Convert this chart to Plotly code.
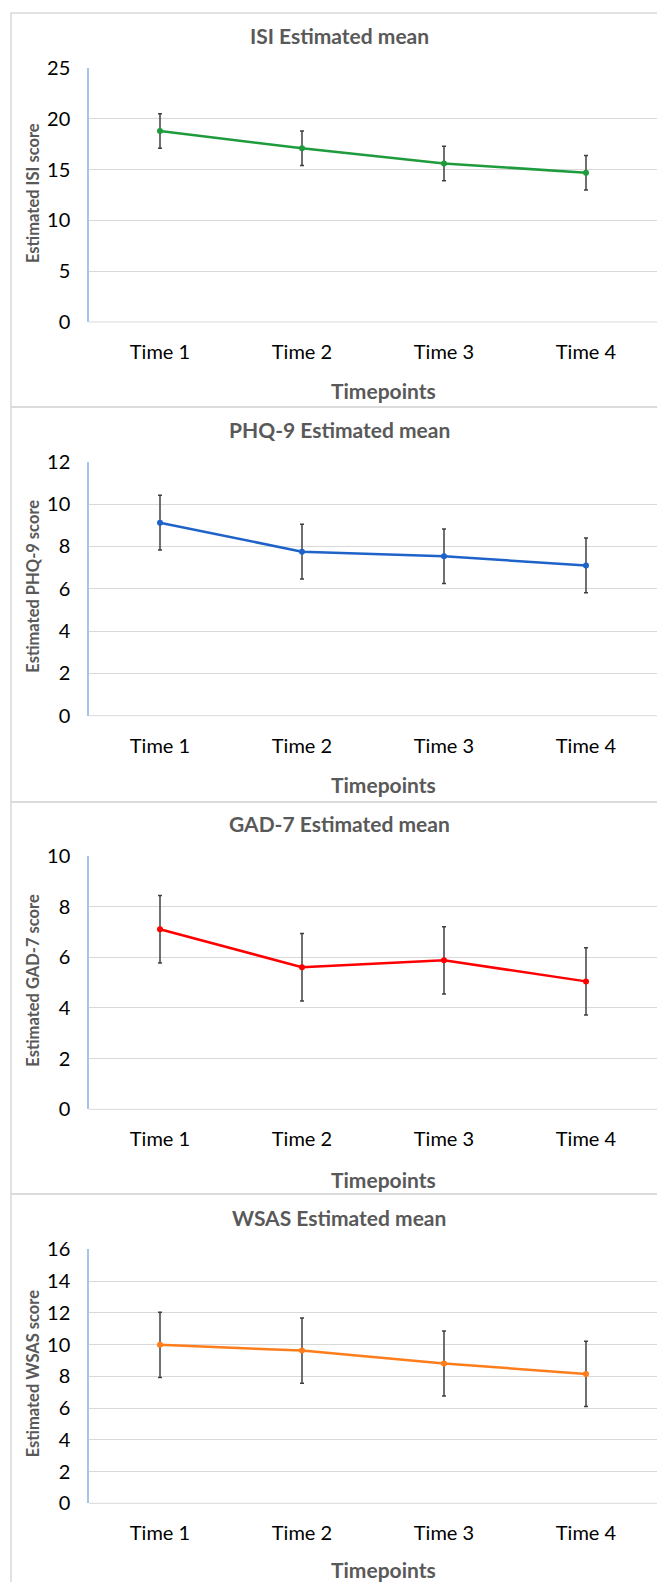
import plotly.graph_objects as go

W, H = 657, 1582

timepoints = ["Time 1", "Time 2", "Time 3", "Time 4"]

isi_mean = [18.8, 17.1, 15.6, 14.7]
isi_err = [1.7, 1.7, 1.7, 1.7]

phq_mean = [9.12, 7.75, 7.53, 7.10]
phq_err = [1.29, 1.29, 1.29, 1.29]

gad_mean = [7.11, 5.61, 5.88, 5.05]
gad_err = [1.33, 1.33, 1.33, 1.33]

wsas_mean = [9.98, 9.62, 8.81, 8.15]
wsas_err = [2.05, 2.05, 2.05, 2.05]

titles = ["ISI Estimated mean", "PHQ-9 Estimated mean", "GAD-7 Estimated mean", "WSAS Estimated mean"]
ytitles = ["Estimated ISI score", "Estimated PHQ-9 score", "Estimated GAD-7 score", "Estimated WSAS score"]
ymax = [25, 12, 10, 16]
ydtick = [5, 2, 2, 2]
colors = ["#1e9b3c", "#1f63c9", "#ff0000", "#ff7d1a"]
means = [isi_mean, phq_mean, gad_mean, wsas_mean]
errs = [isi_err, phq_err, gad_err, wsas_err]

# pixel layout of each panel
panel_top = [13, 407, 802, 1194]
title_y = [35, 429, 823, 1217]
plot_top = [68, 461.7, 856, 1249.3]
plot_bot = [322, 715.7, 1109.3, 1503.3]
xlab_y = [390, 785, 1179, 1569]

def py(p):
    return 1 - p / H

def px(p):
    return p / W

FONT = "Lato"
fig = go.Figure()
shapes = []
annotations = []

for i in range(4):
    n = "" if i == 0 else str(i + 1)
    fig.add_trace(go.Scatter(
        x=timepoints, y=means[i],
        mode="lines+markers",
        line=dict(color=colors[i], width=2.5),
        marker=dict(color=colors[i], size=6),
        error_y=dict(type="data", array=errs[i], visible=True,
                     color="#404040", thickness=1.5, width=2),
        xaxis="x" + n, yaxis="y" + n, showlegend=False,
    ))
    fig.update_layout(**{
        "xaxis" + n: dict(
            domain=[px(89), 1.0], anchor="y" + n,
            type="category", range=[-0.5, 3.5], automargin=False,
            showgrid=False, showline=False, zeroline=False,
            tickfont=dict(family=FONT, size=20, color="#000000"),
            ticks="", ticklabelstandoff=16, fixedrange=True,
        ),
        "yaxis" + n: dict(
            domain=[py(plot_bot[i]), py(plot_top[i])], anchor="x" + n,
            range=[0, ymax[i]], dtick=ydtick[i], tick0=0, automargin=False,
            showgrid=True, gridcolor="#d9d9d9", gridwidth=1,
            zeroline=False, showline=True, linecolor="#a6c3ea", linewidth=1.5,
            tickfont=dict(family=FONT, size=20, color="#000000"),
            ticks="", ticklabelstandoff=13, fixedrange=True,
        ),
    })
    shapes.append(dict(type="line", xref="paper", yref="paper",
                       x0=px(89), x1=1.0, y0=py(plot_bot[i]), y1=py(plot_bot[i]),
                       line=dict(color="#d9d9d9", width=1), layer="below"))
    bot = panel_top[i + 1] if i < 3 else H + 20
    shapes.append(dict(type="rect", xref="paper", yref="paper",
                       x0=px(11), x1=1.1, y0=py(bot), y1=py(panel_top[i]),
                       line=dict(color="#d9d9d9", width=1.5), layer="below"))
    annotations.append(dict(text="<b>" + titles[i] + "</b>", xref="paper", yref="paper",
                            x=px(339), y=py(title_y[i]), xanchor="center", yanchor="middle",
                            showarrow=False, font=dict(family=FONT, size=21, color="#595959")))
    annotations.append(dict(text="<b>" + ytitles[i] + "</b>", xref="paper", yref="paper",
                            x=px(33), y=py((plot_top[i] + plot_bot[i]) / 2 - 2),
                            xanchor="center", yanchor="middle", textangle=-90,
                            showarrow=False, font=dict(family=FONT, size=16.5, color="#595959")))
    annotations.append(dict(text="<b>Timepoints</b>", xref="paper", yref="paper",
                            x=px(383), y=py(xlab_y[i]), xanchor="center", yanchor="middle",
                            showarrow=False, font=dict(family=FONT, size=21, color="#595959")))

fig.update_layout(
    width=W, height=H, autosize=False,
    margin=dict(l=0, r=0, t=0, b=0, pad=0, autoexpand=False),
    paper_bgcolor="white", plot_bgcolor="white",
    shapes=shapes, annotations=annotations,
    showlegend=False,
)

post = ("document.body.style.margin='0';document.body.style.overflow='hidden';"
        "var d=document.getElementById('{plot_id}');d.style.position='fixed';"
        "d.style.top='0px';d.style.left='0px';")
fig.write_html("out.html", post_script=post, config={"displayModeBar": False})
